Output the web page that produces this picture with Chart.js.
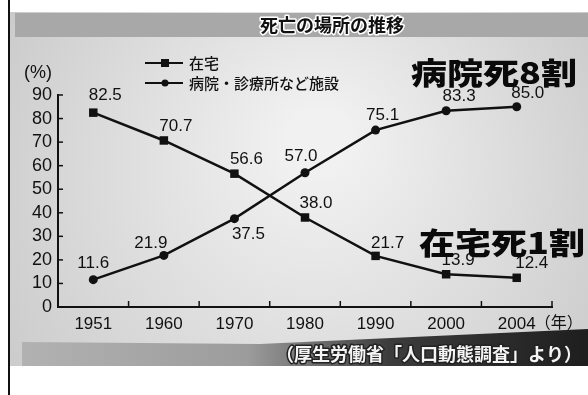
<!DOCTYPE html>
<html lang="ja">
<head>
<meta charset="utf-8">
<title>死亡の場所の推移</title>
<script src="https://cdn.jsdelivr.net/npm/chart.js@4.4.1/dist/chart.umd.min.js"></script>
<style>
  html, body { margin: 0; padding: 0; background: #fff; }
  #wrap { position: relative; width: 588px; height: 395px; }
</style>
</head>
<body>
<div id="wrap"><canvas id="deathChart" width="588" height="395"></canvas></div>
<script>
// 死亡の場所の推移（厚生労働省「人口動態調査」より）
const years = ['1951', '1960', '1970', '1980', '1990', '2000', '2004'];
const homeValues = [82.5, 70.7, 56.6, 38.0, 21.7, 13.9, 12.4];
const facilityValues = [11.6, 21.9, 37.5, 57.0, 75.1, 83.3, 85.0];
const yTicks = [0, 10, 20, 30, 40, 50, 60, 70, 80, 90];
const seriesNames = ['在宅', '病院・診療所など施設'];

const JP = '"Noto Sans CJK JP", "Noto Sans", sans-serif';
const NUM = '"Liberation Sans", Arial, sans-serif';

/**
 * 背景（網かけ・帯・左罫線）
 */
const backdrop = {
    id: 'backdrop',
    beforeDraw(chart) {
        const { ctx, width, height } = chart;
        ctx.save();
        ctx.fillStyle = '#ffffff';
        ctx.fillRect(0, 0, width, height);

        const paper = ctx.createRadialGradient(320, 140, 30, 300, 200, 360);
        paper.addColorStop(0, '#f1f1f1');
        paper.addColorStop(1, '#c9c9c9');
        ctx.fillStyle = paper;
        ctx.fillRect(10, 12, width - 10, 354);

        // タイトル帯
        ctx.fillStyle = '#a8a8a8';
        ctx.fillRect(15, 13, width - 15, 24);

        // 出典帯（右ほど暗い）
        const band = ctx.createLinearGradient(20, 0, width, 0);
        band.addColorStop(0, '#b2b2b2');
        band.addColorStop(0.4, '#9c9c9c');
        band.addColorStop(0.65, '#3c3c3c');
        band.addColorStop(1, '#1e1e1e');
        ctx.fillStyle = band;
        ctx.beginPath();
        ctx.moveTo(22, 342);
        ctx.lineTo(260, 344);
        ctx.lineTo(width, 329);
        ctx.lineTo(width, 366);
        ctx.lineTo(22, 366);
        ctx.closePath();
        ctx.fill();

        ctx.fillStyle = '#111';
        ctx.fillRect(8, 0, 2, height);
        ctx.restore();
    }
};

/**
 * 目盛り（内向き）・数値ラベル・凡例・見出し
 */
const decorations = {
    id: 'decorations',
    afterDraw(chart, args, opts) {
        const { ctx, chartArea } = chart;
        const xs = chart.scales.x;
        const ys = chart.scales.y;
        ctx.save();

        // y軸の目盛り（右向き）
        ctx.strokeStyle = '#111';
        ctx.lineWidth = 1.5;
        yTicks.forEach(v => {
            const y = ys.getPixelForValue(v);
            ctx.beginPath();
            ctx.moveTo(chartArea.left, y);
            ctx.lineTo(chartArea.left + 5, y);
            ctx.stroke();
        });
        // x軸の目盛り（区切り位置、上向き）
        const half = (xs.getPixelForValue(1) - xs.getPixelForValue(0)) / 2;
        years.forEach((_, i) => {
            const x = xs.getPixelForValue(i) + half;
            ctx.beginPath();
            ctx.moveTo(x, chartArea.bottom);
            ctx.lineTo(x, chartArea.bottom - 6);
            ctx.stroke();
        });

        // 数値ラベル
        ctx.fillStyle = '#111';
        ctx.font = `17px ${NUM}`;
        ctx.textAlign = 'center';
        ctx.textBaseline = 'middle';
        chart.data.datasets.forEach((ds, di) => {
            const meta = chart.getDatasetMeta(di);
            const shifts = opts.labelShift[di];
            meta.data.forEach((pt, i) => {
                const [dx, dy] = shifts[i];
                ctx.fillText(ds.data[i].toFixed(1), pt.x + dx, pt.y + dy);
            });
        });

        // (%) と（年）
        ctx.font = `18px ${NUM}`;
        ctx.textAlign = 'left';
        ctx.fillText('(%)', 24, 73);
        ctx.font = `16px ${JP}`;
        ctx.fillText('（年）', xs.getPixelForValue(years.length - 1) + 18, 322);

        // 凡例
        chart.data.datasets.forEach((ds, di) => {
            const y = 63 + di * 20;
            ctx.strokeStyle = '#111';
            ctx.lineWidth = 2;
            ctx.beginPath();
            ctx.moveTo(145, y);
            ctx.lineTo(183, y);
            ctx.stroke();
            ctx.fillStyle = '#111';
            if (ds.pointStyle === 'rect') {
                ctx.fillRect(161, y - 4, 8, 8);
            } else {
                ctx.beginPath();
                ctx.arc(165, y, 3.5, 0, Math.PI * 2);
                ctx.fill();
            }
            ctx.font = `500 15px ${JP}`;
            ctx.textAlign = 'left';
            ctx.fillText(seriesNames[di], 189, y);
        });

        // タイトル
        ctx.font = `bold 18px ${JP}`;
        ctx.textAlign = 'center';
        ctx.lineJoin = 'round';
        ctx.strokeStyle = '#fff';
        ctx.lineWidth = 3;
        ctx.strokeText('死亡の場所の推移', 332, 25);
        ctx.fillStyle = '#111';
        ctx.fillText('死亡の場所の推移', 332, 25);

        // 大見出し
        const bigText = (text, x, y) => {
            ctx.save();
            ctx.translate(x, y);
            ctx.scale(1.2, 1);
            ctx.font = `900 30px ${JP}`;
            ctx.textAlign = 'left';
            ctx.fillStyle = '#0a0a0a';
            ctx.fillText(text, 0, 0);
            ctx.restore();
        };
        bigText('病院死8割', 411, 73);
        bigText('在宅死1割', 419, 243);

        // 出典
        ctx.font = `bold 18px ${JP}`;
        ctx.textAlign = 'left';
        ctx.strokeStyle = '#222';
        ctx.lineWidth = 3;
        ctx.strokeText('（厚生労働省「人口動態調査」より）', 276, 354);
        ctx.fillStyle = '#f4f4f4';
        ctx.fillText('（厚生労働省「人口動態調査」より）', 276, 354);

        ctx.restore();
    }
};

const ctx = document.getElementById('deathChart').getContext('2d');
new Chart(ctx, {
    type: 'line',
    data: {
        labels: years,
        datasets: [{
            label: seriesNames[0],
            data: homeValues,
            borderColor: '#111',
            backgroundColor: '#111',
            borderWidth: 2.5,
            pointStyle: 'rect',
            pointRadius: 6,
            pointBorderWidth: 0,
            tension: 0,
        }, {
            label: seriesNames[1],
            data: facilityValues,
            borderColor: '#111',
            backgroundColor: '#111',
            borderWidth: 2.5,
            pointStyle: 'circle',
            pointRadius: 4.5,
            pointBorderWidth: 0,
            tension: 0,
        }],
    },
    options: {
        responsive: false,
        animation: false,
        layout: { padding: { left: 0, top: 95, right: 36, bottom: 0 } },
        plugins: {
            legend: { display: false },
            tooltip: { enabled: false },
            decorations: {
                labelShift: [
                    [[12, -17], [12, -14], [12, -14], [11, -14], [12, -13], [12, -14], [15, -14]],
                    [[0, -16], [-13, -12], [14, 16], [-4, -16], [7, -15], [13, -14], [11, -13]],
                ],
            },
        },
        scales: {
            x: {
                offset: true,
                grid: { display: false, drawTicks: false },
                border: { display: true, color: '#111', width: 2 },
                ticks: { color: '#111', font: { family: NUM, size: 17 }, padding: 7, maxRotation: 0 },
                afterFit: s => { s.height = 88; },
            },
            y: {
                min: 0,
                max: 90,
                grid: { display: false, drawTicks: false },
                border: { display: true, color: '#111', width: 2 },
                ticks: { stepSize: 10, autoSkip: false, color: '#111', font: { family: NUM, size: 18 }, padding: 6 },
                afterFit: s => { s.width = 58; },
            },
        },
    },
    plugins: [backdrop, decorations],
});
</script>
</body>
</html>
